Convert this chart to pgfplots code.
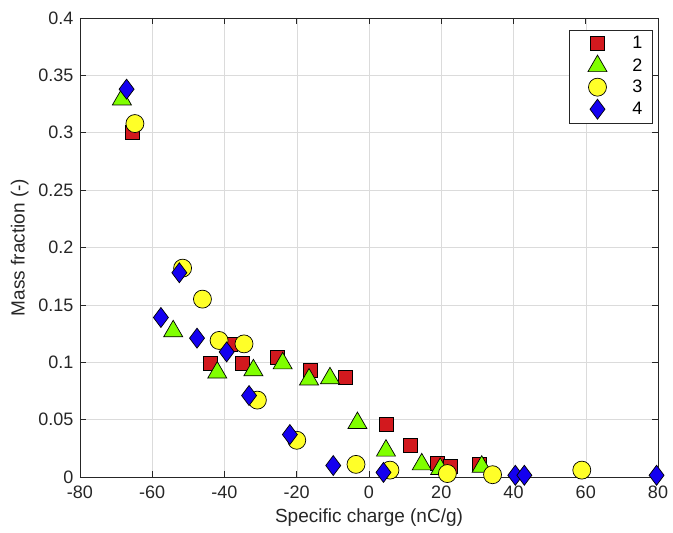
\documentclass[border=0pt]{standalone}
\usepackage{pgfplots}
\pgfplotsset{compat=1.18}
\usepackage{fontspec}
\setmainfont{Liberation Sans}
\definecolor{mred}{RGB}{210,25,30}
\definecolor{mgreen}{RGB}{128,255,0}
\definecolor{myellow}{RGB}{255,255,40}
\definecolor{mblue}{RGB}{20,0,240}
\definecolor{axgray}{RGB}{38,38,38}
\begin{document}
\begin{tikzpicture}
\begin{axis}[name=ax, scale only axis, width=578pt, height=459pt,
  xmin=-80, xmax=80, ymin=0, ymax=0.4,
  xtick={-80,-60,-40,-20,0,20,40,60,80},
  ytick={0,0.05,0.1,0.15,0.2,0.25,0.3,0.35,0.4},
  clip=false,
  grid=major, major grid style={line width=0.5pt, color=black!14},
  tick align=inside, major tick length=6pt,
  axis line style={axgray, line width=0.6pt},
  every tick/.style={axgray, line width=0.6pt},
  ticklabel style={font=\fontsize{18}{21}\selectfont, text=axgray},
  xticklabel style={yshift=-5pt},
  yticklabel style={xshift=-3pt},
  /pgf/number format/assume math mode=true,
  yticklabel style={/pgf/number format/fixed, /pgf/number format/precision=2},
  scaled y ticks=false,
  xlabel={Specific charge (nC/g)}, ylabel={Mass fraction (-)},
  label style={font=\fontsize{19}{22}\selectfont, text=axgray},
  xlabel style={yshift=-4pt},
  ylabel style={yshift=3pt},
  legend style={at={(0.991,0.974)}, anchor=north east, font=\fontsize{18}{21}\selectfont,
    draw=axgray, line width=0.6pt, fill=white, row sep=3pt, column sep=13pt,
    inner xsep=8pt, inner ysep=4pt},
  legend image code/.code={\path[draw=none,fill=none] (0pt,0pt) -- (40pt,0pt);
    \draw[mark repeat=2,mark phase=2,#1] plot coordinates {(0pt,0pt) (20pt,0pt) (40pt,0pt)};},
  legend cell align=left,
]
\addplot[only marks, mark=square*, mark size=7pt, mark options={fill=mred, draw=black, line width=0.7pt}]
coordinates {(-65.5,0.300) (-44,0.099) (-38.5,0.116) (-35,0.099) (-25.4,0.104) (-16.3,0.093) (-6.6,0.087) (4.7,0.046) (11.4,0.028) (18.9,0.012) (22.4,0.0095) (30.6,0.011)};
\addlegendentry{1}
\addplot[only marks, mark=triangle*, mark size=11pt, mark options={fill=mgreen, draw=black, line width=0.7pt}]
coordinates {(-68.4,0.329) (-54.2,0.127) (-42,0.091) (-32,0.093) (-23.9,0.099) (-16.6,0.085) (-10.8,0.086) (-3.2,0.047) (4.7,0.023) (14.6,0.011) (19.7,0.007) (31.2,0.009)};
\addlegendentry{2}
\addplot[only marks, mark=*, mark size=9pt, mark options={fill=myellow, draw=black, line width=0.7pt}]
coordinates {(-64.8,0.308) (-51.6,0.182) (-46.1,0.155) (-41.5,0.119) (-34.6,0.116) (-30.9,0.067) (-20,0.032) (-3.6,0.011) (5.8,0.006) (21.7,0.003) (34.2,0.002) (58.9,0.006)};
\addlegendentry{3}
\addplot[only marks, mark=diamond*, mark size=10pt, mark options={fill=mblue, draw=black, line width=0.7pt}]
coordinates {(-67.1,0.338) (-52.5,0.178) (-57.6,0.139) (-47.6,0.121) (-39.4,0.109) (-33.2,0.071) (-21.9,0.037) (-9.9,0.010) (4,0.004) (40.5,0.0015) (43,0.0015) (79.6,0.0015)};
\addlegendentry{4}
\end{axis}
\pgfresetboundingbox
\path ([shift={(-80pt,-56pt)}]ax.south west) rectangle ([shift={(15pt,18pt)}]ax.north east);
\end{tikzpicture}
\end{document}
